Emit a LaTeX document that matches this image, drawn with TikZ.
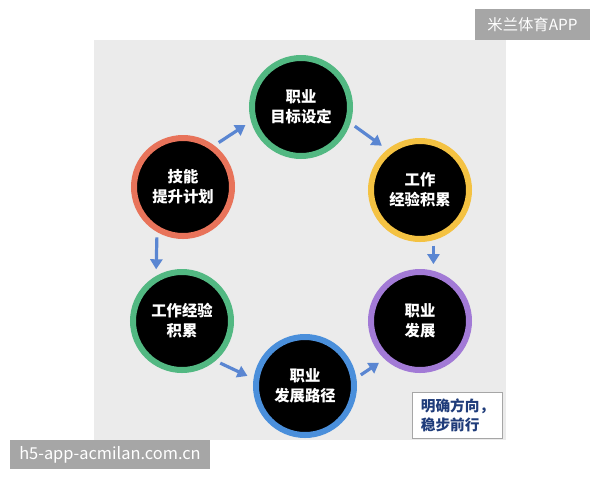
\documentclass[tikz,border=0pt]{standalone}
\usepackage{fontspec}
\setmainfont{Noto Sans CJK SC}
\usetikzlibrary{arrows.meta}
\definecolor{bgcol}{HTML}{EBEBEB}
\definecolor{tagcol}{HTML}{A6A6A6}
\definecolor{cgreen}{HTML}{52B882}
\definecolor{cred}{HTML}{E8735A}
\definecolor{cyellow}{HTML}{F4C242}
\definecolor{cpurple}{HTML}{A27AD6}
\definecolor{cblue}{HTML}{4A8FDB}
\definecolor{arrcol}{HTML}{5A86D2}
\definecolor{boxtext}{HTML}{1F3C7A}
\tikzset{
  ring/.style={circle, fill=black, draw=#1, line width=4.5pt, minimum size=73.5pt, inner sep=0pt,
    text=white, align=center, font=\fontsize{11.5}{15}\selectfont\bfseries},
  arr/.style={draw=arrcol, line width=2.4pt, -{Triangle[length=7.5pt,width=9pt]}, shorten <=4pt, shorten >=5pt},
  tag/.style={fill=tagcol, text=white, inner sep=0pt, font=\fontsize{11.5}{14}\selectfont}
}
\begin{document}
\begin{tikzpicture}[x=0.75pt,y=-0.75pt]
\useasboundingbox (0,0) rectangle (600,480);
\fill[white] (0,0) rectangle (600,480);
\fill[bgcol] (94,40) rectangle (506,440);

\node[ring=cred]    (c1) at (183,187) {技能\\提升计划};
\node[ring=cgreen]  (c2) at (301,107) {职业\\目标设定};
\node[ring=cyellow] (c3) at (420,190) {工作\\经验积累};
\node[ring=cgreen]  (c4) at (182,321) {工作经验\\积累};
\node[ring=cblue]   (c5) at (305,386) {职业\\发展路径};
\node[ring=cpurple] (c6) at (420,321) {职业\\发展};

\draw[arr] (c1.53) -- (c2.196);
\draw[arr] (c2.342) -- (c3.129);
\draw[arr] (c1.240) -- (c4.120);
\draw[arr] (c3.285) -- (c6.75);
\draw[arr] (c4.310) -- (c5.172);
\draw[arr] (c5.9) -- (c6.227);

\node[draw=gray!70, fill=white, line width=0.8pt, minimum width=67pt, minimum height=34pt, inner sep=0pt,
  text=boxtext, align=left, font=\fontsize{11}{14.5}\selectfont\bfseries] (note) at (457.5,415.5) {明确方向，\\稳步前行};

\node[tag, minimum width=86pt, minimum height=23pt] (top) at (532.5,24.5) {米兰体育APP};
\node[tag, minimum width=150pt, minimum height=22pt, font=\fontsize{12.3}{15}\selectfont] (foot) at (110,454.5) {h5-app-acmilan.com.cn};
\end{tikzpicture}
\end{document}
